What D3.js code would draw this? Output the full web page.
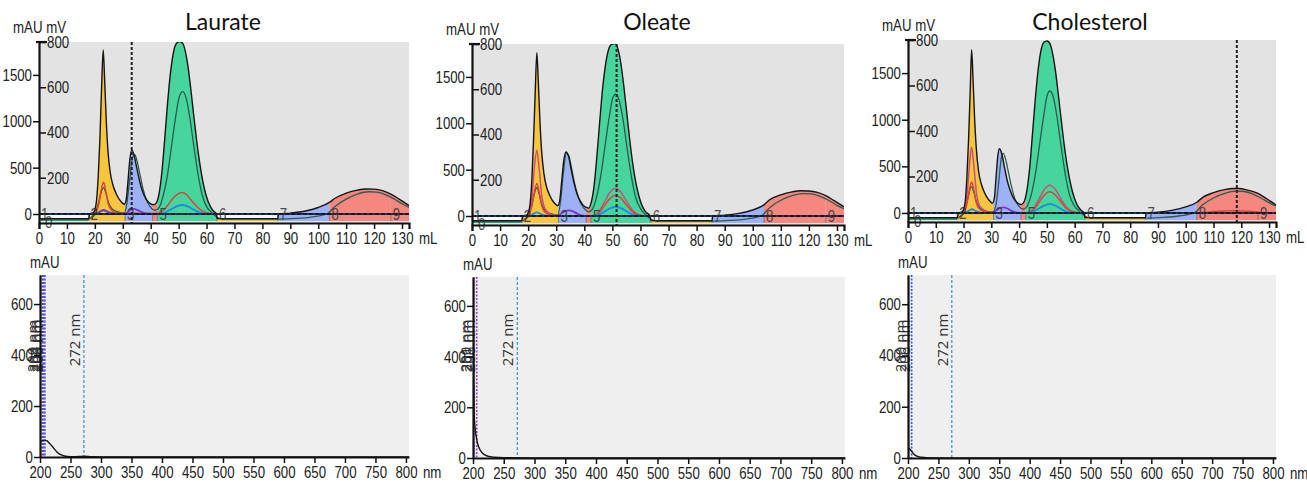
<!DOCTYPE html>
<html lang="en">
<head>
<meta charset="UTF-8">
<title>Chromatograms</title>
<script src="https://d3js.org/d3.v7.min.js"></script>
<style>
  body { margin: 0; background: #fff; }
  svg { display: block; }
  .axis text, .unit { font-family: "Liberation Sans", Arial, sans-serif; font-size: 17px; fill: #222; }
  .frac { font-family: "Liberation Sans", Arial, sans-serif; font-size: 17px; fill: #333; opacity: 0.85; }
  .title { font-family: Lato, "Open Sans", sans-serif; font-size: 23px; fill: #111; }
  .wave { font-family: "Open Sans", sans-serif; font-size: 15px; fill: #333; }
</style>
</head>
<body>
<svg id="chart" width="1307" height="482"></svg>
<script>
// ---- data ----
var titles = ['Laurate', 'Oleate', 'Cholesterol'];
var volumeTicks = [0, 10, 20, 30, 40, 50, 60, 70, 80, 90, 100, 110, 120, 130];
var mauTicks = [0, 500, 1000, 1500];
var mvTicks = [200, 400, 600, 800];
var wavelengthTicks = [200, 250, 300, 350, 400, 450, 500, 550, 600, 650, 700, 750, 800];
var spectrumTicks = [0, 200, 400, 600];
var fractionEdges = [0, 17.7, 30.8, 40.7, 42.4, 63.7, 85.5, 104, 126, 132.5];
var fractionNames = ['1', '2', '3', '4', '5', '6', '7', '8', '9'];
var markerVolumes = [33.2, 51.5, 118.4];

// UV curves [mL, mAU]
var laurateUV1 = [[0,-50],[17.7,-50],[18.2,0],[19.5,15],[20.5,120],[21.2,400],[21.8,800],[22.4,1350],[23.0,1770],[23.5,1450],[24.1,1000],[24.7,680],[25.5,450],[26.5,310],[27.5,230],[28.5,170],[29.5,130],[30.5,105],[31.2,150],[31.8,330],[32.5,580],[33.2,690],[34,640],[35,500],[36,360],[37,250],[38,180],[39,135],[40,110],[41,100],[42,120],[43,220],[44,450],[45,800],[46,1180],[47,1500],[48,1720],[49,1830],[50.3,1860],[51.5,1840],[52.5,1740],[53.5,1560],[54.5,1310],[55.5,1040],[56.5,780],[57.5,560],[58.5,380],[59.5,240],[60.5,140],[61.5,75],[62.5,30],[63.5,5],[63.8,-50],[85.5,-50],[85.8,0],[90,10],[95,30],[100,70],[104,125],[106,170],[110,225],[114,258],[117,270],[120,268],[123,252],[126,215],[129,160],[132.5,90]];
var laurateUV2 = [[0,-55],[17.7,-55],[19,-30],[20.5,40],[21.5,140],[22.3,240],[23.1,285],[23.9,230],[24.8,130],[26,60],[28,25],[30.5,10],[31.5,120],[32.5,380],[33.5,610],[34.3,640],[35.2,560],[36.2,420],[37.2,280],[38.5,150],[40,70],[41.5,40],[43,70],[44.5,200],[46,420],[47.5,740],[49,1060],[50.3,1270],[51.5,1320],[52.7,1250],[54,1040],[55.5,720],[57,420],[58.5,200],[60,80],[61.5,25],[63.5,-30],[66,-55],[86,-55],[92,-48],[98,-30],[103,0],[106,80],[110,160],[114,215],[118,240],[121,235],[124,210],[127,165],[130,110],[132.5,70]];
var lauratePink = [];
var laurateRed = [[0,0],[19,0],[20.5,30],[21.5,120],[22.3,260],[23.1,345],[23.9,250],[24.8,110],[26,40],[28,10],[42,5],[44,30],[46,90],[48,170],[50,220],[51.3,232],[52.8,210],[54.5,150],[56.5,80],[58.5,30],[61,5],[63,0],[132.5,0]];
var laurateBlue = [[0,0],[20,0],[22,25],[23,40],[24.5,20],[27,0],[43,0],[45,15],[47,45],[49,80],[51.3,97],[53.5,80],[55.5,45],[57.5,15],[60,0],[132.5,0]];
var lauratePurple = [[0,0],[20,0],[22,30],[23.2,45],[24.5,25],[27,5],[31,5],[32.5,40],[34,55],[35.5,40],[37.5,12],[40,0],[132.5,0]];

var oleateUV1 = [[0,-50],[17.7,-50],[18.2,0],[19.5,10],[20.5,90],[21.3,380],[21.9,800],[22.5,1320],[23.1,1760],[23.6,1460],[24.2,1020],[24.8,700],[25.6,460],[26.5,320],[27.5,235],[28.5,175],[29.5,135],[30.5,110],[31.2,160],[31.9,360],[32.7,600],[33.5,690],[34.4,640],[35.4,490],[36.4,350],[37.4,240],[38.5,165],[39.5,120],[40.5,95],[41.5,85],[42.5,150],[43.5,330],[44.5,650],[45.5,1020],[46.5,1370],[47.5,1620],[48.5,1780],[49.7,1850],[51,1860],[52,1800],[53,1650],[54,1420],[55,1150],[56,870],[57,620],[58,420],[59,270],[60,160],[61,85],[62,40],[63.2,10],[63.8,-50],[85.5,-50],[85.8,0],[90,8],[95,28],[100,65],[104,120],[106,175],[110,228],[114,260],[117,272],[120,270],[123,255],[126,220],[129,165],[132.5,100]];
var oleateUV2 = [[0,-55],[17.7,-55],[19,-30],[20.5,40],[21.5,150],[22.3,250],[23.1,305],[23.9,240],[24.8,135],[26,60],[28,25],[30.5,10],[31.5,150],[32.5,450],[33.6,680],[34.5,650],[35.5,510],[36.5,360],[37.5,240],[38.5,150],[40,80],[41.5,45],[43,80],[44.5,220],[46,460],[47.5,780],[49,1090],[50.2,1280],[51.2,1315],[52.4,1250],[53.8,1040],[55.3,720],[56.8,420],[58.3,200],[60,80],[61.5,25],[63.5,-30],[66,-55],[86,-55],[92,-48],[98,-30],[103,0],[106,90],[110,170],[114,220],[118,242],[121,238],[124,212],[127,170],[130,115],[132.5,80]];
var oleatePink = [[0,0],[19,0],[20.5,60],[21.5,250],[22.3,550],[23.1,710],[23.9,520],[24.8,230],[26,80],[28,20],[31,0],[43,0],[45,40],[47,140],[49,250],[51.2,300],[53,260],[55,160],[57,70],[59,20],[62,0],[132.5,0]];
var oleateRed = [[0,0],[19,0],[20.5,30],[21.5,130],[22.3,270],[23.1,350],[23.9,260],[24.8,115],[26,40],[28,10],[31,0],[43,0],[45,30],[47,105],[49,185],[51.2,225],[53,195],[55,120],[57,50],[59,15],[62,0],[132.5,0]];
var oleateBlue = [[0,0],[20,0],[22,25],[23.1,40],[24.5,20],[27,0],[43,0],[45,15],[47,45],[49,80],[51.2,100],[53.3,82],[55.3,45],[57.3,15],[60,0],[132.5,0]];
var oleatePurple = [[0,0],[30,0],[31.5,20],[33,50],[34.5,60],[36,50],[37.5,25],[40,0],[132.5,0]];

var cholUV1 = [[0,-50],[17.7,-50],[18.2,0],[19.5,12],[20.5,100],[21.2,380],[21.8,780],[22.4,1310],[22.9,1752],[23.4,1450],[24,1000],[24.6,690],[25.4,450],[26.4,310],[27.4,228],[28.4,170],[29.4,130],[30.4,105],[31.1,160],[31.7,380],[32.3,600],[32.9,688],[33.8,630],[34.8,480],[35.8,340],[36.8,240],[37.8,170],[38.8,125],[39.8,100],[40.8,90],[41.8,120],[42.8,240],[43.8,480],[44.8,840],[45.8,1210],[46.8,1520],[47.8,1730],[48.9,1830],[50.1,1845],[51.2,1810],[52.2,1690],[53.2,1500],[54.2,1250],[55.2,990],[56.2,740],[57.2,530],[58.2,360],[59.2,230],[60.2,135],[61.2,70],[62.3,28],[63.3,5],[63.8,-50],[85.5,-50],[85.8,0],[90,8],[95,28],[100,65],[104,115],[106,165],[110,218],[114,250],[117,262],[119,263],[122,248],[126,210],[129,155],[132.5,85]];
var cholUV2 = [[0,-55],[17.7,-55],[19,-30],[20.5,40],[21.4,140],[22.2,240],[22.9,282],[23.7,225],[24.6,125],[25.8,55],[28,20],[30.5,10],[31.7,90],[32.7,340],[33.6,590],[34.3,640],[35.2,570],[36.2,430],[37.2,290],[38.5,150],[40,70],[41.5,40],[43,80],[44.5,210],[46,440],[47.5,760],[49,1070],[50.1,1260],[51.1,1308],[52.3,1245],[53.6,1040],[55.1,720],[56.6,420],[58.1,200],[59.8,80],[61.4,25],[63.5,-30],[66,-55],[86,-55],[92,-48],[98,-30],[103,0],[106,85],[110,160],[114,210],[118,235],[121,230],[124,205],[127,160],[130,110],[132.5,75]];
var cholPink = [[0,0],[19,0],[20.5,60],[21.4,240],[22.2,540],[22.9,705],[23.7,510],[24.6,225],[25.8,80],[28,20],[31,0],[43,0],[45,40],[47,140],[49,250],[51,298],[53,255],[55,155],[57,65],[59,20],[62,0],[132.5,0]];
var cholRed = [[0,0],[19,0],[20.5,30],[21.4,125],[22.2,260],[22.9,333],[23.7,250],[24.6,110],[25.8,40],[28,10],[31,0],[43,0],[45,30],[47,105],[49,190],[51,227],[53,195],[55,120],[57,50],[59,15],[62,0],[105,0],[110,15],[117,25],[123,18],[127,5],[132.5,0]];
var cholBlue = [[0,0],[20,0],[22,25],[23,40],[24.5,20],[27,0],[43,0],[45,15],[47,45],[49,78],[51,96],[53,80],[55,45],[57,15],[60,0],[132.5,0]];
var cholPurple = [[0,0],[30,0],[31.5,20],[33,50],[34.3,60],[35.8,48],[37.3,22],[40,0],[132.5,0]];

// absorbance spectra [nm, mAU]
var laurateSpectrum = [[200,60],[203,63],[207,66],[211,64],[215,55],[220,42],[225,27],[230,15],[235,8],[240,4],[250,1],[265,2],[272,3],[285,1],[320,0],[805,0]];
var oleateSpectrum = [[200,700],[201,320],[202,170],[203,130],[204,105],[205,88],[207,62],[209,45],[212,30],[216,18],[220,11],[226,6],[235,3],[250,1],[300,0],[805,0]];
var cholSpectrum = [[200,40],[202,37],[204,32],[206,26],[208,20],[210,15],[213,9],[217,5],[222,3],[230,1],[260,0],[805,0]];
var laurateWaves = [200, 204, 206, 208];
var oleateWaves = [200, 201, 206];
var cholWaves = [200, 206];
var detectorWave = 272;

// ---- layout & style ----
var svg = d3.select('#chart');
var narrow = 'scale(0.78,1)';
var fmt = d3.format('d');
var fracColors = ['#2f9d6d', '#f8c63d', '#9db1f4', '#f6877f', '#46d59c', '#eec23a', '#9db1f4', '#f6877f', '#f6877f'];
var traceStyles = [
  {key: 'uv2', color: '#2c5a52', width: 1.3},
  {key: 'pink', color: '#c8507e', width: 1.5},
  {key: 'red', color: '#d8453a', width: 1.5},
  {key: 'blue', color: '#1e8be0', width: 1.8},
  {key: 'purple', color: '#7b34c8', width: 1.8}
];

var panels = [
  {title: titles[0], cx: 223, x0: 39, x1: 409, y0: 42, y1: 223, marker: markerVolumes[0],
   uv1: laurateUV1, uv2: laurateUV2, pink: lauratePink, red: laurateRed, blue: laurateBlue, purple: lauratePurple,
   sx0: 40, sx1: 409, sy0: 275, sy1: 457, spectrum: laurateSpectrum, waves: laurateWaves},
  {title: titles[1], cx: 657, x0: 472, x1: 844, y0: 44, y1: 225, marker: markerVolumes[1],
   uv1: oleateUV1, uv2: oleateUV2, pink: oleatePink, red: oleateRed, blue: oleateBlue, purple: oleatePurple,
   sx0: 473, sx1: 845, sy0: 277, sy1: 458, spectrum: oleateSpectrum, waves: oleateWaves},
  {title: titles[2], cx: 1090, x0: 908, x1: 1276, y0: 40, y1: 222, marker: markerVolumes[2],
   uv1: cholUV1, uv2: cholUV2, pink: cholPink, red: cholRed, blue: cholBlue, purple: cholPurple,
   sx0: 908, sx1: 1276, sy0: 275, sy1: 458, spectrum: cholSpectrum, waves: cholWaves}
];

function styleAxis(g) {
  g.attr('font-family', null).attr('font-size', null);
  g.selectAll('.domain').attr('stroke', '#111').attr('stroke-width', 2.2);
  g.selectAll('.tick line').attr('stroke', '#111').attr('stroke-width', 1.5);
  g.selectAll('.tick text').attr('transform', narrow);
}

function unitText(x, y, txt, cls) {
  return svg.append('text').attr('class', cls || 'unit')
    .attr('transform', 'translate(' + x + ',' + y + ') ' + narrow).text(txt);
}

panels.forEach(function (p, i) {
  /** ---------- chromatogram ---------- */
  var x = d3.scaleLinear().domain([0, 132.5]).range([p.x0, p.x1]);
  var y = d3.scaleLinear().domain([-97, 1855]).range([p.y1, p.y0]);
  var yMv = d3.scaleLinear().domain([0, 800]).range([p.y1, p.y0]);
  var line = d3.line().x(function (d) { return x(d[0]); }).y(function (d) { return y(d[1]); }).curve(d3.curveMonotoneX);
  var area = d3.area().x(function (d) { return x(d[0]); }).y0(y(-75)).y1(function (d) { return y(d[1]); }).curve(d3.curveMonotoneX);

  svg.append('text').attr('class', 'title').attr('x', p.cx).attr('y', 30)
    .attr('text-anchor', 'middle').text(p.title);

  var clipId = 'clip' + i;
  svg.append('clipPath').attr('id', clipId).append('rect')
    .attr('x', p.x0).attr('y', p.y0).attr('width', p.x1 - p.x0).attr('height', p.y1 - p.y0);

  var plot = svg.append('g').attr('clip-path', 'url(#' + clipId + ')');
  plot.append('rect').attr('x', p.x0).attr('y', p.y0).attr('width', p.x1 - p.x0).attr('height', p.y1 - p.y0)
    .attr('fill', '#e3e3e3');
  plot.append('rect').attr('x', p.x0).attr('y', y(0)).attr('width', p.x1 - p.x0).attr('height', y(-75) - y(0))
    .attr('fill', '#f3f5f9');

  // fraction fills: UV area clipped to each fraction
  fractionNames.forEach(function (name, k) {
    var a = fractionEdges[k], b = fractionEdges[k + 1];
    var fid = 'frac' + i + '_' + k;
    svg.append('clipPath').attr('id', fid).append('rect')
      .attr('x', x(a)).attr('y', p.y0).attr('width', x(b) - x(a)).attr('height', p.y1 - p.y0);
    plot.append('path').datum(p.uv1).attr('d', area).attr('clip-path', 'url(#' + fid + ')')
      .attr('fill', fracColors[k]).attr('stroke', 'none');
    plot.append('line').attr('x1', x(a)).attr('x2', x(a)).attr('y1', y(0)).attr('y2', y(-75))
      .attr('stroke', '#555').attr('stroke-width', 1).attr('opacity', 0.6);
  });

  traceStyles.forEach(function (s) {
    if (!p[s.key].length) return;
    plot.append('path').datum(p[s.key]).attr('d', line).attr('fill', 'none')
      .attr('stroke', s.color).attr('stroke-width', s.width);
  });
  plot.append('path').datum(p.uv1).attr('d', line).attr('fill', 'none')
    .attr('stroke', '#151515').attr('stroke-width', 1.4);

  // baseline
  plot.append('line').attr('x1', p.x0).attr('x2', p.x1).attr('y1', y(0)).attr('y2', y(0))
    .attr('stroke', '#1c3568').attr('stroke-width', 2);
  plot.append('line').attr('x1', p.x0).attr('x2', p.x1).attr('y1', y(0)).attr('y2', y(0))
    .attr('stroke', '#111').attr('stroke-width', 1.6).attr('stroke-dasharray', '4,2');

  // fraction numbers
  fractionNames.forEach(function (name, k) {
    if (fractionEdges[k + 1] - fractionEdges[k] < 3) return;
    unitText(x(fractionEdges[k]) + 2, y(0) + 6, name, 'frac');
  });
  unitText(p.x0 + 6, p.y1 + 5, '0', 'frac');

  // position marker
  svg.append('line').attr('x1', x(p.marker)).attr('x2', x(p.marker)).attr('y1', p.y0).attr('y2', p.y1)
    .attr('stroke', '#222').attr('stroke-width', 2).attr('stroke-dasharray', '3,2');

  // axes
  svg.append('g').attr('class', 'axis').attr('transform', 'translate(' + p.x0 + ',0)')
    .call(d3.axisLeft(y).tickValues(mauTicks).tickFormat(fmt).tickSize(6).tickSizeOuter(0).tickPadding(3))
    .call(styleAxis);
  svg.append('g').attr('class', 'axis').attr('transform', 'translate(' + (p.x0 + 1) + ',0)')
    .call(d3.axisRight(yMv).tickValues(mvTicks).tickFormat(fmt).tickSize(6).tickSizeOuter(0).tickPadding(3))
    .call(styleAxis)
    .call(function (g) { g.select('.domain').remove(); });
  svg.append('line').attr('x1', p.x0 - 3).attr('x2', p.x0 + 8).attr('y1', yMv(800)).attr('y2', yMv(800))
    .attr('stroke', '#111').attr('stroke-width', 2.2);
  svg.append('g').attr('class', 'axis').attr('transform', 'translate(0,' + p.y1 + ')')
    .call(d3.axisBottom(x).tickValues(volumeTicks).tickFormat(fmt).tickSize(6).tickSizeOuter(6).tickPadding(3))
    .call(styleAxis);
  unitText(p.x0 - 26, p.y0 - 9, 'mAU mV');
  unitText(p.x1 + 10, p.y1 + 21, 'mL');

  /** ---------- absorbance spectrum ---------- */
  var sx = d3.scaleLinear().domain([200, 805]).range([p.sx0, p.sx1]);
  var sy = d3.scaleLinear().domain([0, 714]).range([p.sy1, p.sy0]);
  var sClip = 'sclip' + i;
  svg.append('clipPath').attr('id', sClip).append('rect')
    .attr('x', p.sx0).attr('y', p.sy0).attr('width', p.sx1 - p.sx0).attr('height', p.sy1 - p.sy0);
  var splot = svg.append('g').attr('clip-path', 'url(#' + sClip + ')');
  splot.append('rect').attr('x', p.sx0).attr('y', p.sy0).attr('width', p.sx1 - p.sx0).attr('height', p.sy1 - p.sy0)
    .attr('fill', '#efefef');

  splot.append('line').attr('x1', sx(detectorWave)).attr('x2', sx(detectorWave)).attr('y1', p.sy0).attr('y2', p.sy1)
    .attr('stroke', '#3b8fc6').attr('stroke-width', 1.2).attr('stroke-dasharray', '3,2');
  svg.append('text').attr('class', 'wave')
    .attr('transform', 'translate(' + (sx(detectorWave) - 4) + ',340) rotate(-90)')
    .attr('text-anchor', 'middle').text(detectorWave + ' nm');

  p.waves.forEach(function (w) {
    svg.append('text').attr('class', 'wave')
      .attr('transform', 'translate(' + (sx(w) - 2) + ',346) rotate(-90)')
      .attr('text-anchor', 'middle').text(w + ' nm');
  });
  p.waves.slice().reverse().forEach(function (w) {
    var idx = p.waves.indexOf(w);
    splot.append('line').attr('x1', sx(w)).attr('x2', sx(w)).attr('y1', p.sy0).attr('y2', p.sy1)
      .attr('stroke', idx === 0 ? '#e0243a' : (idx % 2 ? '#3355dd' : '#9a3fd0'))
      .attr('stroke-width', idx === 0 ? 2.2 : 1.6)
      .attr('stroke-dasharray', idx === 0 ? null : '2,1.5');
  });

  splot.append('path').datum(p.spectrum)
    .attr('d', d3.line().x(function (d) { return sx(d[0]); }).y(function (d) { return sy(d[1]); }).curve(d3.curveMonotoneX))
    .attr('fill', 'none').attr('stroke', '#151515').attr('stroke-width', 1.4);

  svg.append('g').attr('class', 'axis').attr('transform', 'translate(' + p.sx0 + ',0)')
    .call(d3.axisLeft(sy).tickValues(spectrumTicks).tickFormat(fmt).tickSize(6).tickSizeOuter(0).tickPadding(3))
    .call(styleAxis);
  svg.append('g').attr('class', 'axis').attr('transform', 'translate(0,' + p.sy1 + ')')
    .call(d3.axisBottom(sx).tickValues(wavelengthTicks).tickFormat(fmt).tickSize(6).tickSizeOuter(0).tickPadding(3))
    .call(styleAxis);
  unitText(p.sx0 - 10, p.sy0 - 7, 'mAU');
  unitText(p.sx1 + 14, p.sy1 + 21, 'nm');
});
</script>
</body>
</html>
